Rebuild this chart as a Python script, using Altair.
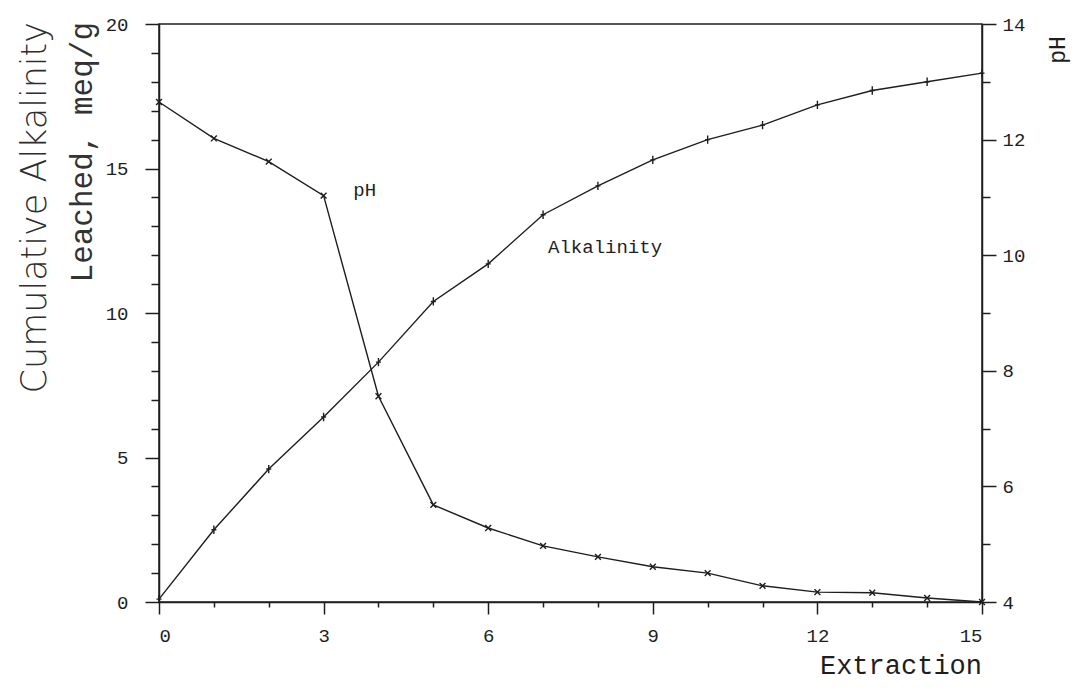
import altair as alt
import pandas as pd

extraction = list(range(16))
alkalinity = [0.1, 2.5, 4.6, 6.4, 8.3, 10.4, 11.7, 13.4, 14.4, 15.3, 16.0, 16.5, 17.2, 17.7, 18.0, 18.3]
ph_values = [12.65, 12.02, 11.62, 11.03, 7.56, 5.68, 5.28, 4.97, 4.78, 4.61, 4.50, 4.28, 4.17, 4.16, 4.07, 4.0]

note_labels = ["pH", "Alkalinity"]
note_x = [3.75, 8.13]
note_y = [14.24, 12.29]

df_alk = pd.DataFrame({"Extraction": extraction, "Alkalinity": alkalinity})
df_ph = pd.DataFrame({"Extraction": extraction, "pH": ph_values})
df_notes = pd.DataFrame({"label": note_labels, "x": note_x, "y": note_y})

INK = "#1e1e1e"
MONO = "Liberation Mono"
W, H = 823, 578

x_scale = alt.Scale(domain=[0, 15], nice=False)
y_left = alt.Scale(domain=[0, 20], nice=False)
y_right = alt.Scale(domain=[4, 14], nice=False)

x_axis = alt.Axis(
    values=list(range(16)),
    labelExpr="datum.value % 3 === 0 ? datum.label : ''",
    tickSize={"condition": {"test": "datum.value % 3 === 0", "value": 12}, "value": 5},
    labelPadding=12,
    title=None,
    grid=False,
)
left_axis = alt.Axis(
    values=list(range(21)),
    labelExpr="datum.value % 5 === 0 ? datum.label : ''",
    tickSize={"condition": {"test": "datum.value % 5 === 0", "value": 14}, "value": 8},
    labelPadding=17,
    title=None,
    grid=False,
)
right_axis = alt.Axis(
    values=list(range(4, 15)),
    labelExpr="datum.value % 2 === 0 ? datum.label : ''",
    tickSize={"condition": {"test": "datum.value % 2 === 0", "value": 14}, "value": 8},
    labelPadding=6,
    orient="right",
    title=None,
    grid=False,
)

X = alt.X("Extraction:Q", scale=x_scale, axis=x_axis)

alk_line = alt.Chart(df_alk).mark_line(color=INK, strokeWidth=1.4).encode(
    x=X, y=alt.Y("Alkalinity:Q", scale=y_left, axis=left_axis)
)
alk_pts = alt.Chart(df_alk).mark_point(
    shape="M0,-1L0,1M-0.6,0L0.6,0", size=70, color=INK, strokeWidth=1.4, filled=False, opacity=1
).encode(x=X, y=alt.Y("Alkalinity:Q", scale=y_left, axis=left_axis))

notes = alt.Chart(df_notes).mark_text(font=MONO, fontSize=19, color=INK).encode(
    x=alt.X("x:Q", scale=x_scale, axis=x_axis),
    y=alt.Y("y:Q", scale=y_left, axis=left_axis),
    text="label:N",
)

titles_df = pd.DataFrame({"t": [0]})
t_cum = alt.Chart(titles_df).mark_text(
    text="Cumulative Alkalinity", font="DejaVu Sans", fontWeight=200, fontSize=35,
    angle=270, align="right", baseline="middle", color="#2e2e2e"
).encode(x=alt.value(-124), y=alt.value(-2))
t_lea = alt.Chart(titles_df).mark_text(
    text="Leached, meq/g", font=MONO, fontSize=31,
    angle=270, align="right", baseline="middle", color="#333333"
).encode(x=alt.value(-76), y=alt.value(-2))
t_ext = alt.Chart(titles_df).mark_text(
    text="Extraction", font=MONO, fontSize=27, align="right", baseline="alphabetic", color=INK
).encode(x=alt.value(W), y=alt.value(650))
t_ph = alt.Chart(titles_df).mark_text(
    text="pH", font=MONO, fontSize=23, angle=270, align="center", baseline="middle", color=INK
).encode(x=alt.value(899), y=alt.value(26))

left_layer = alt.layer(alk_line, alk_pts, notes, t_cum, t_lea, t_ext, t_ph)

ph_line = alt.Chart(df_ph).mark_line(color=INK, strokeWidth=1.4).encode(
    x=X, y=alt.Y("pH:Q", scale=y_right, axis=right_axis)
)
ph_pts = alt.Chart(df_ph).mark_point(
    shape="M-0.7,-0.7L0.7,0.7M-0.7,0.7L0.7,-0.7", size=70, color=INK, strokeWidth=1.4, filled=False, opacity=1
).encode(x=X, y=alt.Y("pH:Q", scale=y_right, axis=right_axis))
right_layer = alt.layer(ph_line, ph_pts)

chart = (
    alt.layer(left_layer, right_layer)
    .resolve_scale(y="independent")
    .properties(
        width=W,
        height=H,
        autosize=alt.AutoSizeParams(type="none"),
        padding={"left": 151, "top": 16, "right": 90, "bottom": 79},
        background="white",
    )
    .configure_view(stroke=INK, strokeWidth=1.5)
    .configure_axis(
        domainColor=INK, domainWidth=1.5, tickColor=INK, tickWidth=1.5,
        labelFont=MONO, labelFontSize=19, labelColor=INK,
    )
)

chart.save("out.html", embed_options={"renderer": "svg", "actions": False})
